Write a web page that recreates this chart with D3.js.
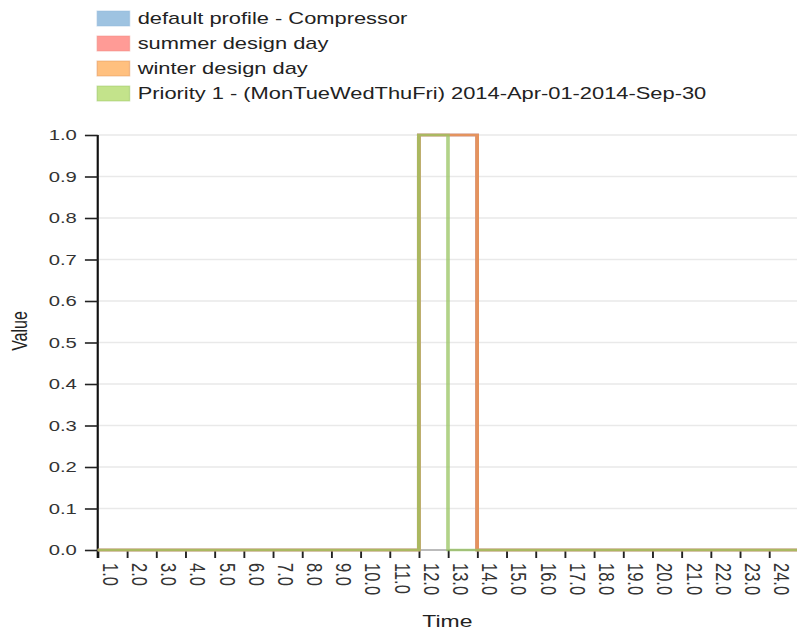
<!DOCTYPE html>
<html lang="en">
<head>
<meta charset="UTF-8">
<title>Schedule profile</title>
<script src="https://d3js.org/d3.v7.min.js"></script>
<style>
  body { margin: 0; background: #fff; }
  svg { display: block; font-family: "Liberation Sans", Arial, sans-serif; }
  .grid line { stroke: #e9e9e9; stroke-width: 1.4; }
  .y-axis .domain { stroke: #111; stroke-width: 1.6; }
  .y-axis .tick line { stroke: #222; stroke-width: 1.6; }
  .y-axis text { font-size: 15px; fill: #333; }
  .x-axis .domain { stroke: #888; stroke-width: 1.2; }
  .x-axis .tick line { stroke: #222; stroke-width: 1.4; }
  .x-axis text { font-size: 16.5px; fill: #333; }
  .legend text { font-size: 16.2px; fill: #222; }
  .series { fill: none; stroke-width: 2.7; }
</style>
</head>
<body>
<svg id="chart" width="797" height="632"></svg>
<script>
// hourly schedule values (value for the hour ending at label)
var hourLabels = ["1.0","2.0","3.0","4.0","5.0","6.0","7.0","8.0","9.0","10.0","11.0","12.0",
                  "13.0","14.0","15.0","16.0","17.0","18.0","19.0","20.0","21.0","22.0","23.0","24.0"];
var defaultProfile = [0,0,0,0,0,0,0,0,0,0,0,1,1,0,0,0,0,0,0,0,0,0,0,0];
var summerDesign   = [0,0,0,0,0,0,0,0,0,0,0,1,1,0,0,0,0,0,0,0,0,0,0,0];
var winterDesign   = [0,0,0,0,0,0,0,0,0,0,0,1,1,0,0,0,0,0,0,0,0,0,0,0];
var priority1      = [0,0,0,0,0,0,0,0,0,0,0,1,0,0,0,0,0,0,0,0,0,0,0,0];

var seriesNames = ["default profile - Compressor", "summer design day", "winter design day",
                   "Priority 1 - (MonTueWedThuFri) 2014-Apr-01-2014-Sep-30"];
var seriesValues = [defaultProfile, summerDesign, winterDesign, priority1];
var swatchColors = ["#9ec3e1", "#ff9b96", "#ffc07f", "#c3e38b"];
var lineColors = ["#8fb8dc", "#f08a80", "#e2935a", "#98c462"];
var lineOpacity = [1, 1, 0.9, 0.75];
var yTicks = [0,0.1,0.2,0.3,0.4,0.5,0.6,0.7,0.8,0.9,1.0];

// picture is stretched sideways, so draw in a narrower box
var W = 797 / 1.35, H = 632;
var svg = d3.select("#chart")
    .attr("viewBox", "0 0 " + W + " " + H)
    .attr("preserveAspectRatio", "none");

var x0 = 72.4, step = 21.62;
var x = d3.scaleLinear().domain([0, 24]).range([x0, x0 + 24 * step]);
var y = d3.scaleLinear().domain([0, 1]).range([550, 135]);

// grid
svg.append("g").attr("class", "grid")
  .selectAll("line").data(yTicks).enter().append("line")
    .attr("x1", x(0)).attr("x2", W)
    .attr("y1", function(d) { return y(d); })
    .attr("y2", function(d) { return y(d); });

// x axis
var xAxis = svg.append("g").attr("class", "x-axis")
    .attr("transform", "translate(0," + y(0) + ")")
    .call(d3.axisBottom(x)
      .tickValues(d3.range(0, 24))
      .tickFormat(function(d) { return hourLabels[d]; })
      .tickSize(8).tickSizeOuter(0));
xAxis.select(".domain").attr("d", "M" + x(0) + ",0H" + W);
xAxis.selectAll("text")
    .attr("transform", "rotate(90)")
    .attr("x", 13)
    .attr("y", -9)
    .attr("dy", ".35em")
    .style("text-anchor", "start");

// y axis
var yAxis = svg.append("g").attr("class", "y-axis")
    .attr("transform", "translate(" + x(0) + ",0)")
    .call(d3.axisLeft(y)
      .tickValues(yTicks)
      .tickFormat(d3.format(".1f"))
      .tickSize(9.5).tickSizeOuter(0).tickPadding(6));
yAxis.select(".domain").attr("d", "M0," + y(1) + "V" + (y(0) + 8));

// series as step lines
var line = d3.line()
    .x(function(d) { return x(d.t); })
    .y(function(d) { return y(d.v); })
    .curve(d3.curveStepAfter);

seriesValues.forEach(function(vals, i) {
  var pts = vals.map(function(v, k) { return {t: k, v: v}; });
  pts.push({t: 24, v: vals[23]});
  svg.append("path")
    .datum(pts)
    .attr("class", "series")
    .attr("d", line)
    .attr("stroke", lineColors[i])
    .attr("stroke-opacity", lineOpacity[i]);
});

// axis titles
svg.append("text")
    .attr("x", x(0) + 259)
    .attr("y", 627)
    .attr("text-anchor", "middle")
    .style("font-size", "17px")
    .attr("fill", "#222")
    .text("Time");

svg.append("text")
    .attr("transform", "translate(20," + 331 + ") rotate(-90)")
    .attr("text-anchor", "middle")
    .style("font-size", "16px")
    .attr("fill", "#222")
    .text("Value");

// legend
var legend = svg.append("g").attr("class", "legend")
  .selectAll("g").data(seriesNames).enter().append("g")
    .attr("transform", function(d, i) { return "translate(72," + (11 + i * 25) + ")"; });

legend.append("rect")
    .attr("width", 24).attr("height", 15)
    .attr("fill", function(d, i) { return swatchColors[i]; })
    .attr("stroke", function(d, i) { return lineColors[i]; })
    .attr("stroke-opacity", 0.5)
    .attr("stroke-width", 1);

legend.append("text")
    .attr("x", 30)
    .attr("y", 7.5)
    .attr("dy", ".35em")
    .text(function(d) { return d; });
</script>
</body>
</html>
